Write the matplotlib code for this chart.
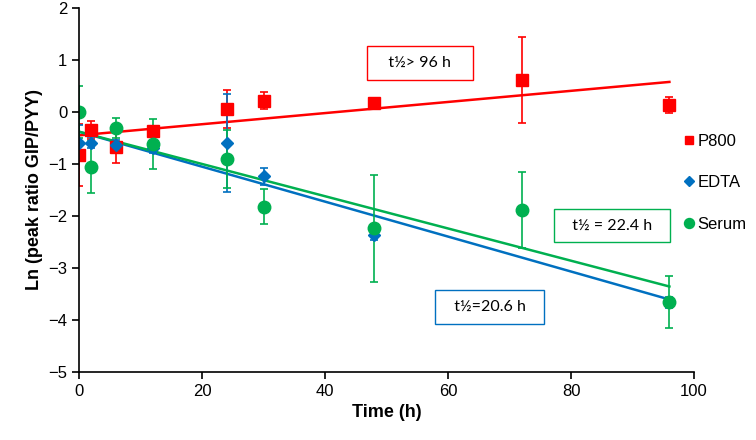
import matplotlib
matplotlib.use('Agg')
import matplotlib.pyplot as plt
import numpy as np

plt.rcParams['font.family'] = ['Liberation Sans', 'DejaVu Sans']

# sampling times (h)
time = [0, 2, 6, 12, 24, 30, 48, 72, 96]

# P800
p800 = [-0.83, -0.35, -0.68, -0.36, 0.06, 0.22, 0.17, 0.62, 0.13]
p800_err = [0.6, 0.17, 0.3, 0.08, 0.37, 0.16, 0.08, 0.83, 0.15]

# EDTA (no point at 72 h)
edta_t = [0, 2, 6, 12, 24, 30, 48, 96]
edta = [-0.6, -0.59, -0.63, -0.69, -0.6, -1.24, -2.37, -3.66]
edta_err = [0.35, 0.1, 0.1, 0.1, 0.94, 0.16, 0.1, 0.1]

# Serum
serum = [0.0, -1.05, -0.31, -0.62, -0.91, -1.82, -2.24, -1.88, -3.65]
serum_err = [0.5, 0.5, 0.2, 0.48, 0.56, 0.33, 1.03, 0.73, 0.5]

# fitted lines: intercept, slope
fit_p800 = (-0.45, 0.0107)
fit_edta = (-0.38, -0.0336)
fit_serum = (-0.38, -0.0310)

red = '#FF0000'
blue = '#0070C0'
green = '#00B050'

fig = plt.figure(figsize=(7.56, 4.4), dpi=100)
ax = fig.add_axes([0.1045, 0.1545, 0.8135, 0.8275])

tfit = np.array([0, 96])
ax.plot(tfit, fit_p800[0] + fit_p800[1] * tfit, color=red, lw=1.8)
ax.plot(tfit, fit_edta[0] + fit_edta[1] * tfit, color=blue, lw=1.8)
ax.plot(tfit, fit_serum[0] + fit_serum[1] * tfit, color=green, lw=1.8)

ax.errorbar(time, p800, yerr=p800_err, fmt='s', color=red, ms=8,
            capsize=3, elinewidth=1.2, capthick=1.2, label='P800')
ax.errorbar(edta_t, edta, yerr=edta_err, fmt='D', color=blue, ms=6,
            capsize=3, elinewidth=1.2, capthick=1.2, label='EDTA')
ax.errorbar(time, serum, yerr=serum_err, fmt='o', color=green, ms=9,
            capsize=3, elinewidth=1.2, capthick=1.2, label='Serum')

ax.set_xlim(0, 100)
ax.set_ylim(-5, 2)
ax.set_xticks(np.arange(0, 101, 20))
ax.set_yticks(np.arange(-5, 3, 1))
ax.spines['top'].set_visible(False)
ax.spines['right'].set_visible(False)
ax.tick_params(direction='out', length=5, width=1.2, labelsize=12)
for s in ['left', 'bottom']:
    ax.spines[s].set_linewidth(1.2)

ax.set_xlabel('Time (h)', fontsize=13, fontweight='bold')
ax.set_ylabel('Ln (peak ratio GIP/PYY)', fontsize=13, fontweight='bold')

box_font = ['Lato', 'DejaVu Sans']
ax.text(55.4, 0.94, '   t½> 96 h   ', ha='center', va='center', fontsize=11.5,
        family=box_font,
        bbox=dict(boxstyle='square,pad=0.6', fc='white', ec=red, lw=1))
ax.text(86.7, -2.19, '  t½ = 22.4 h  ', ha='center', va='center', fontsize=11.5,
        family=box_font,
        bbox=dict(boxstyle='square,pad=0.6', fc='white', ec=green, lw=1))
ax.text(66.8, -3.75, '  t½=20.6 h  ', ha='center', va='center', fontsize=11.5,
        family=box_font,
        bbox=dict(boxstyle='square,pad=0.65', fc='white', ec=blue, lw=1))

h, l = ax.get_legend_handles_labels()
h = [x[0] for x in h]
leg = ax.legend(h, l, loc='center left', bbox_to_anchor=(0.983, 0.52),
                frameon=False, fontsize=12, handlelength=0.6,
                handletextpad=0.25, labelspacing=1.6, markerscale=0.8,
                borderpad=0, borderaxespad=0)

fig.savefig('out.png', dpi=100)
